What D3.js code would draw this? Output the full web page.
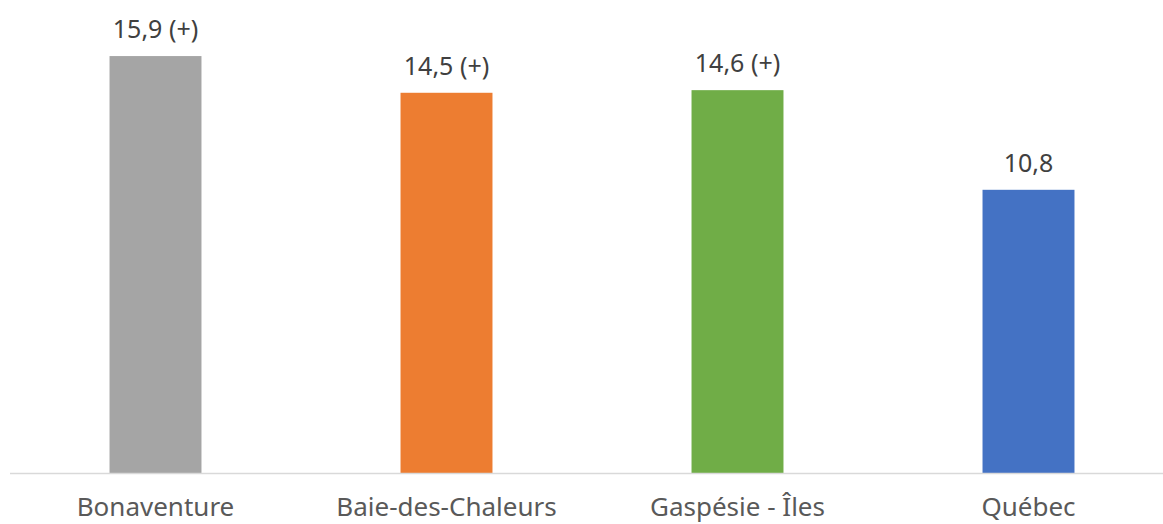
<!DOCTYPE html>
<html>
<head>
<meta charset="utf-8">
<script src="https://cdn.jsdelivr.net/npm/d3@7"></script>
<style>
  body { margin: 0; background: #fff; }
  svg { display: block; font-family: "Noto Sans", "Open Sans", sans-serif; }
</style>
</head>
<body>
<div id="chart"></div>
<script>
const categories = ["Bonaventure", "Baie-des-Chaleurs", "Gaspésie - Îles", "Québec"];
const values = [15.9, 14.5, 14.6, 10.8];
const flags = ["(+)", "(+)", "(+)", ""];
const colors = ["#A5A5A5", "#ED7D31", "#70AD47", "#4472C4"];

const width = 1163, height = 524;

const svg = d3.select("#chart")
    .append("svg")
    .attr("width", width)
    .attr("height", height);

//scales
const xScale = d3.scaleBand()
    .domain(categories)
    .range([10, 1174])
    .paddingInner(0.684)
    .paddingOuter(0.342);

const yScale = d3.scaleLinear()
    .domain([0, 18])
    .range([473, 1]);

//bars
svg.append("g")
    .selectAll("rect")
    .data(values)
    .enter()
    .append("rect")
    .attr("x", (d, i) => xScale(categories[i]))
    .attr("y", d => yScale(d))
    .attr("width", xScale.bandwidth())
    .attr("height", d => yScale(0) - yScale(d))
    .attr("fill", (d, i) => colors[i]);

//axis line
svg.append("line")
    .attr("x1", 10)
    .attr("x2", width)
    .attr("y1", yScale(0) + 0.5)
    .attr("y2", yScale(0) + 0.5)
    .attr("stroke", "#D9D9D9")
    .attr("stroke-width", 1.5);

//value labels
svg.append("g")
    .selectAll("text")
    .data(values)
    .enter()
    .append("text")
    .attr("x", (d, i) => xScale(categories[i]) + xScale.bandwidth() / 2)
    .attr("y", d => yScale(d) - 18)
    .attr("text-anchor", "middle")
    .attr("fill", "#404040")
    .attr("font-size", "25px")
    .text((d, i) => d.toFixed(1).replace(".", ",") + (flags[i] ? " " + flags[i] : ""));

//category labels
svg.append("g")
    .selectAll("text")
    .data(categories)
    .enter()
    .append("text")
    .attr("x", d => xScale(d) + xScale.bandwidth() / 2)
    .attr("y", 516)
    .attr("text-anchor", "middle")
    .attr("fill", "#595959")
    .attr("font-size", "26px")
    .text(d => d);
</script>
</body>
</html>
